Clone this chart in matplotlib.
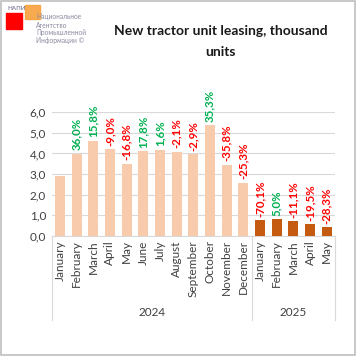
import matplotlib
matplotlib.use("Agg")
import matplotlib.pyplot as plt
from matplotlib.patches import Rectangle
import matplotlib.transforms as mtransforms

months = ["January", "February", "March", "April", "May", "June", "July",
          "August", "September", "October", "November", "December",
          "January", "February", "March", "April", "May"]
years = ["2024", "2025"]
year_counts = [12, 5]
values = [2.93, 3.98, 4.61, 4.20, 3.49, 4.11, 4.18, 4.09, 3.97, 5.37, 3.45, 2.58,
          0.77, 0.81, 0.72, 0.58, 0.42]
changes = [None, "36,0%", "15,8%", "-9,0%", "-16,8%", "17,8%", "1,6%", "-2,1%", "-2,9%",
           "35,3%", "-35,8%", "-25,3%", "-70,1%", "5,0%", "-11,1%", "-19,5%", "-28,3%"]
yticks = [0, 1, 2, 3, 4, 5, 6]

plt.rcParams['font.family'] = ['Lato', 'DejaVu Sans']

fig = plt.figure(figsize=(3.56, 3.56), dpi=100)
fig.patch.set_facecolor("white")
fig.patches.append(Rectangle((0.003, 0.003), 0.994, 0.994, transform=fig.transFigure,
                             fill=False, edgecolor="#bfbfbf", linewidth=1.2))

ax = fig.add_axes([0.145, 0.337, 0.796, 0.348])
x = list(range(len(values)))
colors = ["#F8CBAD"] * year_counts[0] + ["#C55A11"] * year_counts[1]
ax.bar(x, values, width=0.6, color=colors, zorder=3)
ax.set_xlim(-0.5, len(values) - 0.5)
ax.set_ylim(0, 6)
ax.set_yticks(yticks)
ax.set_yticklabels([f"{v:.1f}".replace(".", ",") for v in yticks], fontsize=8.5, color="#404040")
ax.grid(axis="y", color="#d9d9d9", linewidth=0.8, zorder=0)
for s in ["left", "right", "top"]:
    ax.spines[s].set_visible(False)
ax.spines["bottom"].set_color("#d9d9d9")
ax.tick_params(axis="both", length=0)
ax.tick_params(axis="y", pad=4)
ax.set_xticks(x)
ax.set_xticklabels(months, rotation=90, fontsize=8.5, color="#404040")
ax.tick_params(axis="x", pad=3)

for xi, v, c in zip(x, values, changes):
    if c is None:
        continue
    col = "#FF0000" if c.startswith("-") else "#00B050"
    ax.annotate(c, (xi, v), xytext=(0, 2.5), textcoords="offset points",
                rotation=90, ha="center", va="bottom", fontsize=8.3,
                fontweight="bold", color=col)

trans = mtransforms.blended_transform_factory(ax.transData, ax.transAxes)
bottom = -0.677
bounds = [-0.5]
acc = -0.5
for n in year_counts:
    acc += n
    bounds.append(acc)
for b in bounds:
    ax.plot([b, b], [0, bottom], transform=trans, color="#d9d9d9", linewidth=0.8,
            clip_on=False)
for i, yl in enumerate(years):
    cx = (bounds[i] + bounds[i + 1]) / 2
    ax.text(cx, -0.617, yl, transform=trans, ha="center", va="center",
            fontsize=8.5, color="#404040")

fig.text(0.62, 0.883, "New tractor unit leasing, thousand\nunits", ha="center",
         va="center", fontsize=10, fontweight="bold", color="#1a1a1a",
         linespacing=1.85)

# logo
fig.patches.append(Rectangle((6 / 356, 1 - 29 / 356), 16 / 356, 16 / 356,
                             transform=fig.transFigure, color="#FF0000"))
fig.patches.append(Rectangle((25 / 356, 1 - 19 / 356), 15 / 356, 14 / 356,
                             transform=fig.transFigure, color="#F7A13C", alpha=0.9))
fig.text(7 / 356, 1 - 8 / 356, "НАПИ", fontsize=4.5, color="#606080", va="center")
logo_lines = ["Национальное", "Агентство", "Промышленной", "Информации ©"]
for i, t in enumerate(logo_lines):
    fig.text(36 / 356, 1 - (17 + 8 * i) / 356, t, fontsize=4.8, color="#8a8aa0",
             va="center")

fig.savefig("out.png", dpi=100, facecolor="white")
